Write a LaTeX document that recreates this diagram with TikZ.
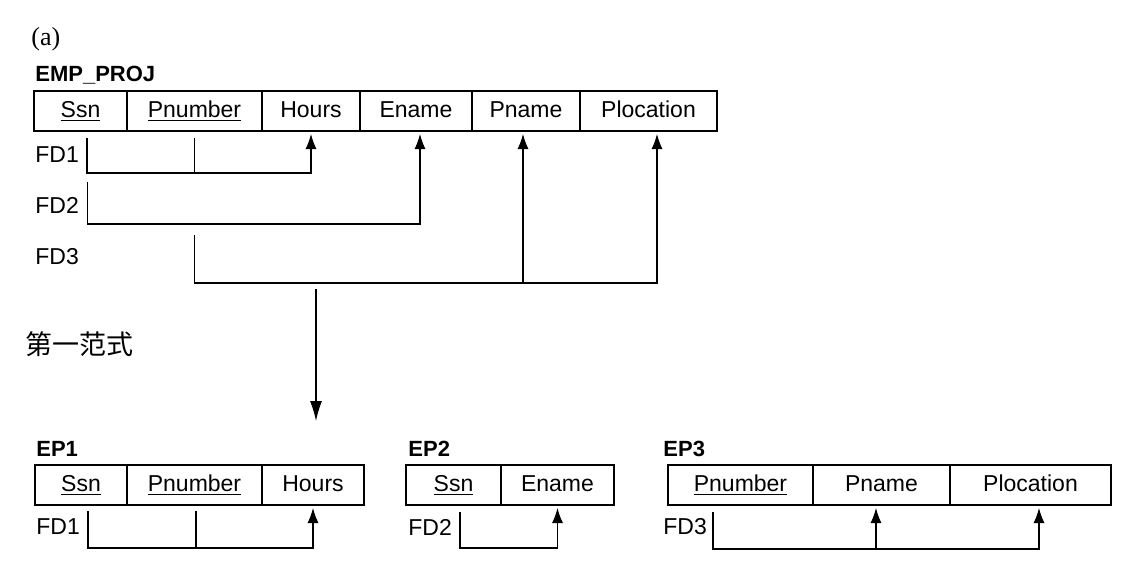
\documentclass[tikz,border=0pt]{standalone}
\usepackage{fontspec}
\setmainfont{Liberation Serif}
\setsansfont{Liberation Sans}
\newfontfamily\cjk{Noto Sans CJK SC}
\usetikzlibrary{positioning,calc,arrows.meta}

\begin{document}
\begin{tikzpicture} [
    x=0.5pt, y=-0.5pt,
    cell/.style    = { rectangle, draw, line width=0.7pt, outer sep=0pt, inner sep=0pt,
                       minimum height=20pt, text centered, text height=8.5pt, text depth=2.5pt,
                       font=\sffamily\fontsize{11.5}{13}\selectfont },
    title/.style   = { anchor=base west, inner sep=0pt,
                       font=\sffamily\bfseries\fontsize{11}{13}\selectfont },
    fdlabel/.style = { anchor=west, inner sep=0pt,
                       font=\sffamily\fontsize{11.5}{13}\selectfont },
    line/.style    = { draw, line width=0.55pt },
    fd/.style      = { line, -{Latex[length=7.5pt,width=5.5pt]}, shorten >=1.5pt },
  ]
  \useasboundingbox (0,0) rectangle (1130,584);

  % Define nodes
  \node[anchor=west, inner sep=0pt, font=\fontsize{13}{15}\selectfont] (tag) at (31,39) {(a)};
  \node[title] (emp) at (35,81) {EMP\_PROJ};

  \node[cell, anchor=west, minimum width=46.5pt] (ssn) at (34,111) {\underline{Ssn}};
  \node[cell, right=0pt of ssn,   minimum width=67.5pt] (pnumber)   {\underline{Pnumber}};
  \node[cell, right=0pt of pnumber, minimum width=49pt] (hours)     {Hours};
  \node[cell, right=0pt of hours, minimum width=56pt]   (ename)     {Ename};
  \node[cell, right=0pt of ename, minimum width=54pt]   (pname)     {Pname};
  \node[cell, right=0pt of pname, minimum width=68.5pt] (plocation) {Plocation};

  \node[fdlabel] (fd1) at (35,155) {FD1};
  \node[fdlabel] (fd2) at (35,205) {FD2};
  \node[fdlabel] (fd3) at (35,257) {FD3};

  \node[anchor=west, inner sep=0pt, font=\cjk\fontsize{13.5}{15}\selectfont] (nf1) at (25,344) {第一范式};

  \node[title] (ep1) at (36,456) {EP1};
  \node[cell, anchor=west, minimum width=46pt] (ep1ssn) at (35,485) {\underline{Ssn}};
  \node[cell, right=0pt of ep1ssn,     minimum width=67.5pt] (ep1pnumber) {\underline{Pnumber}};
  \node[cell, right=0pt of ep1pnumber, minimum width=51pt]   (ep1hours)   {Hours};
  \node[fdlabel] (ep1fd) at (36,527) {FD1};

  \node[title] (ep2) at (408,456) {EP2};
  \node[cell, anchor=west, minimum width=47.5pt] (ep2ssn) at (406,485) {\underline{Ssn}};
  \node[cell, right=0pt of ep2ssn, minimum width=56.5pt] (ep2ename) {Ename};
  \node[fdlabel] (ep2fd) at (408,527) {FD2};

  \node[title] (ep3) at (663,456) {EP3};
  \node[cell, anchor=west, minimum width=72.5pt] (ep3pnumber) at (668,485) {\underline{Pnumber}};
  \node[cell, right=0pt of ep3pnumber, minimum width=68.5pt] (ep3pname)     {Pname};
  \node[cell, right=0pt of ep3pname,   minimum width=80.5pt] (ep3plocation) {Plocation};
  \node[fdlabel] (ep3fd) at (663,527) {FD3};

  \coordinate (split) at (316,289);
  \coordinate (down)  at (316,421);

  % connect the nodes
  \path [fd] ($(ssn.south)+(6.5,7)$) |- ($(hours.south)+(0,42)$) -- (hours.south);
  \path [line] ($(pnumber.south)+(0,7)$) -- ($(pnumber.south)+(0,42)$);
  \path [fd] ($(ssn.south)+(7,51)$) |- ($(ename.south)+(4,93)$) -- ([xshift=2pt]ename.south);
  \path [fd] ($(pnumber.south)+(0,104)$) |- ($(plocation.south)+(8.5,152)$) -- ([xshift=4.25pt]plocation.south);
  \path [fd] ($(pname.south)+(-3,152)$) -- ([xshift=-1.5pt]pname.south);
  \path [line, -{Latex[length=10pt,width=6pt]}] (split) -- (down);

  \path [fd] ($(ep1ssn.south)+(7,6)$) |- ($(ep1hours.south)+(0,43)$) -- (ep1hours.south);
  \path [line] ($(ep1pnumber.south)+(1.5,6)$) -- ($(ep1pnumber.south)+(1.5,43)$);
  \path [fd] ($(ep2ssn.south)+(6.5,7)$) |- ($(ep2ename.south)+(0,43)$) -- (ep2ename.south);
  \path [fd] ($(ep3pnumber.south)+(-27.5,7)$) |- ($(ep3plocation.south)+(8.5,44)$) -- ([xshift=4.25pt]ep3plocation.south);
  \path [fd] ($(ep3pname.south)+(-5.5,44)$) -- ([xshift=-2.75pt]ep3pname.south);
\end{tikzpicture}
\end{document}
